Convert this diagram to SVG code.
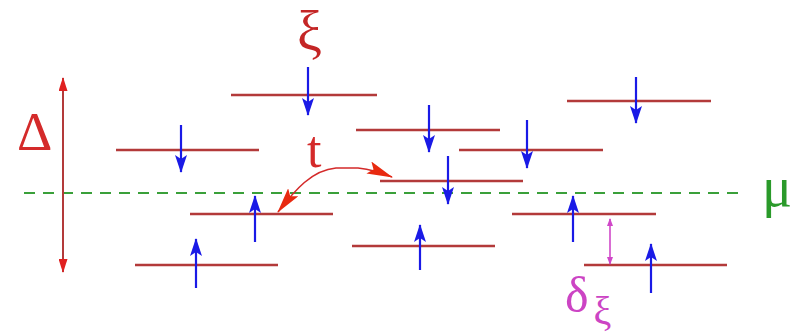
<svg xmlns="http://www.w3.org/2000/svg" width="794" height="336" viewBox="0 0 794 336">
<defs>
<style>
.lvl{stroke:#b33a3a;stroke-width:2.5;fill:none}
.spin{stroke:#1a1ae6;stroke-width:2.2;fill:none;marker-end:url(#bh)}
text{font-family:"Liberation Serif","Times New Roman","DejaVu Serif",serif}
</style>
<marker id="bh" markerUnits="userSpaceOnUse" markerWidth="18" markerHeight="12" refX="17" refY="6" orient="auto" viewBox="0 0 18 12">
<path d="M0,0 L18,6 L0,12 L4,6 z" fill="#1a1ae6"/>
</marker>
<marker id="rh" markerUnits="userSpaceOnUse" markerWidth="14" markerHeight="9" refX="13" refY="4.5" orient="auto-start-reverse" viewBox="0 0 14 9">
<path d="M0,0 L14,4.5 L0,9 z" fill="#e02020"/>
</marker>
<marker id="th" markerUnits="userSpaceOnUse" markerWidth="26" markerHeight="13" refX="25" refY="6.5" orient="auto-start-reverse" viewBox="0 0 26 13">
<path d="M0,0 L26,6.5 L0,13 L5,6.5 z" fill="#e82a10"/>
</marker>
<marker id="mh" markerUnits="userSpaceOnUse" markerWidth="8" markerHeight="6" refX="7" refY="3" orient="auto-start-reverse" viewBox="0 0 8 6">
<path d="M0,0 L8,3 L0,6 z" fill="#d048c8"/>
</marker>
</defs>
<rect width="794" height="336" fill="#ffffff"/>

<g id="mu-line">
<line x1="24" y1="193" x2="746" y2="193" stroke="#3aa03a" stroke-width="2" stroke-dasharray="11,8"/>
<text x="762" y="206" font-size="56" fill="#2a9a2a" font-family="Liberation Serif, serif">μ</text>
</g>

<g id="level-1"><line class="lvl" x1="231" y1="95" x2="377" y2="95"/><line class="spin" x1="308" y1="67" x2="308" y2="115"/></g>
<g id="level-2"><line class="lvl" x1="116" y1="150" x2="259" y2="150"/><line class="spin" x1="181" y1="125" x2="181" y2="172"/></g>
<g id="level-3"><line class="lvl" x1="356" y1="130" x2="500" y2="130"/><line class="spin" x1="429" y1="105" x2="429" y2="152"/></g>
<g id="level-4"><line class="lvl" x1="459" y1="150" x2="603" y2="150"/><line class="spin" x1="527" y1="120" x2="527" y2="168"/></g>
<g id="level-5"><line class="lvl" x1="567" y1="101" x2="711" y2="101"/><line class="spin" x1="636" y1="77" x2="636" y2="123"/></g>
<g id="level-6"><line class="lvl" x1="380" y1="181" x2="523" y2="181"/><line class="spin" x1="448" y1="156" x2="448" y2="204"/></g>
<g id="level-7"><line class="lvl" x1="190" y1="214" x2="333" y2="214"/><line class="spin" x1="255" y1="242" x2="255" y2="196"/></g>
<g id="level-8"><line class="lvl" x1="135" y1="265" x2="278" y2="265"/><line class="spin" x1="196" y1="288" x2="196" y2="239"/></g>
<g id="level-9"><line class="lvl" x1="512" y1="214" x2="656" y2="214"/><line class="spin" x1="573" y1="242" x2="573" y2="196"/></g>
<g id="level-10"><line class="lvl" x1="352" y1="246" x2="495" y2="246"/><line class="spin" x1="420" y1="270" x2="420" y2="225"/></g>
<g id="level-11"><line class="lvl" x1="584" y1="265" x2="727" y2="265"/><line class="spin" x1="651" y1="293" x2="651" y2="244"/></g>

<g id="labels">
<text x="297" y="50" font-size="56" fill="#c42626">ξ</text>
<text x="17" y="150" font-size="55" fill="#d42a2a">Δ</text>
<text x="307" y="167" font-size="52" fill="#d42a2a">t</text>
<text x="565" y="312" font-size="50" fill="#cc44c4">δ<tspan font-size="40" dx="5" dy="12">ξ</tspan></text>
</g>

<g id="connectors">
<line x1="63" y1="78" x2="63" y2="272" stroke="#b33a3a" stroke-width="2" marker-start="url(#rh)" marker-end="url(#rh)"/>
<path d="M278,212 C295,190 312,170 336,168 L358,168 Q375,170 392,177" fill="none" stroke="#d42a2a" stroke-width="1.6" marker-start="url(#th)" marker-end="url(#th)"/>
<line x1="610" y1="219" x2="610" y2="264" stroke="#d048c8" stroke-width="1.6" marker-start="url(#mh)" marker-end="url(#mh)"/>
</g>
</svg>
